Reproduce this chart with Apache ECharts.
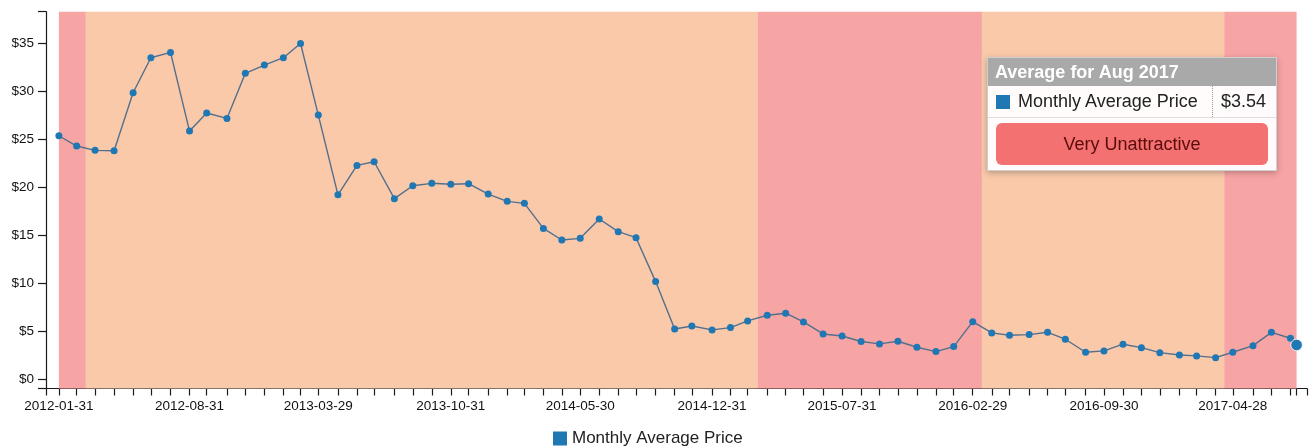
<!DOCTYPE html>
<html>
<head>
<meta charset="utf-8">
<script src="https://cdn.jsdelivr.net/npm/echarts@6/dist/echarts.min.js"></script>
<style>
  html, body { margin: 0; padding: 0; background: #ffffff; }
  #chart { width: 1310px; height: 447px; }
</style>
</head>
<body>
<div id="chart"></div>
<script>
// ---------------- data ----------------
const seriesName = 'Monthly Average Price';
const dates = [
  '2012-01-31','2012-02-29','2012-03-30','2012-04-30','2012-05-31','2012-06-29','2012-07-31','2012-08-31','2012-09-28','2012-10-31','2012-11-30','2012-12-31',
  '2013-01-31','2013-02-28','2013-03-29','2013-04-30','2013-05-31','2013-06-28','2013-07-31','2013-08-30','2013-09-30','2013-10-31','2013-11-29','2013-12-31',
  '2014-01-31','2014-02-28','2014-03-31','2014-04-30','2014-05-30','2014-06-30','2014-07-31','2014-08-29','2014-09-30','2014-10-31','2014-11-28','2014-12-31',
  '2015-01-30','2015-02-27','2015-03-31','2015-04-30','2015-05-29','2015-06-30','2015-07-31','2015-08-31','2015-09-30','2015-10-30','2015-11-30','2015-12-31',
  '2016-01-29','2016-02-29','2016-03-31','2016-04-29','2016-05-31','2016-06-30','2016-07-29','2016-08-31','2016-09-30','2016-10-31','2016-11-30','2016-12-30',
  '2017-01-31','2017-02-28','2017-03-31','2017-04-28','2017-05-31','2017-06-30','2017-07-31','2017-08-10'
];
const prices = [
  25.36, 24.29, 23.84, 23.80, 29.85, 33.50, 34.05, 25.85, 27.73, 27.17,
  31.87, 32.73, 33.50, 34.99, 27.52, 19.20, 22.27, 22.65, 18.80, 20.15,
  20.40, 20.30, 20.36, 19.28, 18.52, 18.31, 15.70, 14.49, 14.66, 16.68,
  15.36, 14.73, 10.15, 5.21, 5.52, 5.11, 5.35, 6.05, 6.64, 6.85,
  5.94, 4.69, 4.48, 3.90, 3.65, 3.93, 3.30, 2.85, 3.37, 5.97,
  4.80, 4.55, 4.62, 4.86, 4.14, 2.78, 2.92, 3.62, 3.26, 2.74,
  2.50, 2.40, 2.22, 2.78, 3.47, 4.86, 4.24, 3.54
];
const xLabelDates = ['2012-01-31','2012-08-31','2013-03-29','2013-10-31','2014-05-30','2014-12-31','2015-07-31','2016-02-29','2016-09-30','2017-04-28'];
const xAxisRange = ['2012-01-10','2017-08-27'];
const yTickValues = [0, 5, 10, 15, 20, 25, 30, 35];
const yAxisRange = [-1, 38.3];
const bandEdges = ['2012-01-31','2012-03-15','2015-03-15','2016-03-15','2017-04-14','2017-08-10'];
const bandLevels = ['Very Unattractive','Unattractive','Very Unattractive','Unattractive','Very Unattractive'];
const currentRating = 'Very Unattractive';
const monthNames = ['Jan','Feb','Mar','Apr','May','Jun','Jul','Aug','Sep','Oct','Nov','Dec'];

// ---------------- helpers / styles ----------------
const levelColors = { 'Very Unattractive': '#f7a4a5', 'Unattractive': '#f9c9aa' };
const FONT = "'Liberation Sans', Arial, sans-serif";
// dates -> day number (days since 1970-01-01, UTC) so a linear value axis acts as a time scale
function toDay(s) { const p = s.split('-').map(Number); return Date.UTC(p[0], p[1] - 1, p[2]) / 86400000; }
function dayToDate(n) { return new Date(n * 86400000); }
const dayLabel = {};
dates.concat(xLabelDates).forEach(s => { dayLabel[toDay(s)] = s; });

const seriesData = dates.map((d, i) => [toDay(d), prices[i]]);
const bandData = bandLevels.map((lvl, i) => [
  { xAxis: toDay(bandEdges[i]), itemStyle: { color: levelColors[lvl], opacity: 1 } },
  { xAxis: toDay(bandEdges[i + 1]) }
]);
const xTickValues = [toDay(xAxisRange[0])].concat(dates.map(s => toDay(s)), [toDay(xAxisRange[1])]);
const yTicksAll = [yAxisRange[0]].concat(yTickValues, [yAxisRange[1]]);

const chart = echarts.init(document.getElementById('chart'), null, { renderer: 'canvas' });
const option = {
  animation: false,
  textStyle: { fontFamily: FONT },
  grid: { left: 46, right: 3, top: 11.7, bottom: 58.5, containLabel: false },
  legend: {
    data: [seriesName],
    left: 553, top: 430, padding: 0,
    icon: 'rect', itemWidth: 14, itemHeight: 14, itemGap: 10,
    itemStyle: { color: '#1f77b4', borderWidth: 0 },
    textStyle: { fontSize: 17, color: '#222', fontFamily: FONT }
  },
  tooltip: {
    trigger: 'item',
    triggerOn: 'none',
    alwaysShowContent: true,
    showDelay: 0,
    transitionDuration: 0,
    position: [987, 57],
    padding: 0,
    borderWidth: 1,
    borderColor: '#cfcfcf',
    borderRadius: 0,
    backgroundColor: 'rgba(255,255,255,0.95)',
    extraCssText: 'box-shadow: 0 2px 6px rgba(0,0,0,0.25);',
    formatter: function (p) {
      const d = dayToDate(p.value[0]);
      const title = 'Average for ' + monthNames[d.getUTCMonth()] + ' ' + d.getUTCFullYear();
      const val = '$' + p.value[1].toFixed(2);
      return '<div style="width:288px;font-family:Liberation Sans,Arial,sans-serif;">' +
        '<div style="background:#a9a9a9;color:#fff;font-weight:bold;font-size:18px;height:28px;line-height:28px;padding-left:7px;">' + title + '</div>' +
        '<div style="display:flex;align-items:center;height:31px;border-bottom:1px solid #dedede;font-size:18px;color:#222;">' +
          '<span style="display:inline-block;width:14px;height:14px;background:#1f77b4;margin-left:8px;margin-right:8px;"></span>' +
          '<span style="flex:1;">' + p.seriesName + '</span>' +
          '<span style="border-left:1px dotted #9a9a9a;height:31px;line-height:31px;padding:0 10px 0 8px;">' + val + '</span>' +
        '</div>' +
        '<div style="padding:5px 8px 5px 8px;">' +
          '<div style="background:#f47171;border-radius:6px;height:42px;line-height:42px;text-align:center;font-size:18px;color:#5a0c0c;">' + currentRating + '</div>' +
        '</div>' +
      '</div>';
    }
  },
  xAxis: {
    type: 'value',
    min: toDay(xAxisRange[0]),
    max: toDay(xAxisRange[1]),
    splitLine: { show: false },
    axisLine: { show: true, onZero: false, lineStyle: { color: '#1a1a1a', width: 1.2 } },
    axisTick: { show: true, length: 7, customValues: xTickValues, lineStyle: { color: '#1a1a1a', width: 1.2 } },
    axisLabel: {
      customValues: xLabelDates.map(s => toDay(s)),
      margin: 11,
      fontSize: 13.5,
      color: '#111',
      fontFamily: FONT,
      hideOverlap: false,
      formatter: function (v) { return dayLabel[v] || ''; }
    }
  },
  yAxis: {
    type: 'value',
    min: yAxisRange[0],
    max: yAxisRange[1],
    splitLine: { show: false },
    axisLine: { show: true, onZero: false, lineStyle: { color: '#1a1a1a', width: 1.2 } },
    axisTick: { show: true, length: 8, customValues: yTicksAll, lineStyle: { color: '#1a1a1a', width: 1.2 } },
    axisLabel: {
      customValues: yTickValues,
      margin: 12,
      fontSize: 13.5,
      color: '#111',
      fontFamily: FONT,
      formatter: function (v) { return '$' + v; }
    }
  },
  series: [{
    name: seriesName,
    type: 'line',
    data: seriesData,
    symbol: 'circle',
    symbolSize: 7,
    showSymbol: true,
    z: 3,
    itemStyle: { color: '#1f77b4' },
    lineStyle: { color: '#4c6580', width: 1.4 },
    emphasis: {
      scale: 1.65,
      itemStyle: { color: '#1f77b4', borderColor: 'rgba(255,255,255,0.8)', borderWidth: 1 },
      lineStyle: { width: 1.4 }
    },
    markArea: {
      silent: true,
      z: 1,
      data: bandData
    }
  }]
};
chart.setOption(option);
const lastIdx = seriesData.length - 1;
chart.dispatchAction({ type: 'highlight', seriesIndex: 0, dataIndex: lastIdx });
chart.dispatchAction({ type: 'showTip', seriesIndex: 0, dataIndex: lastIdx });
</script>
</body>
</html>
